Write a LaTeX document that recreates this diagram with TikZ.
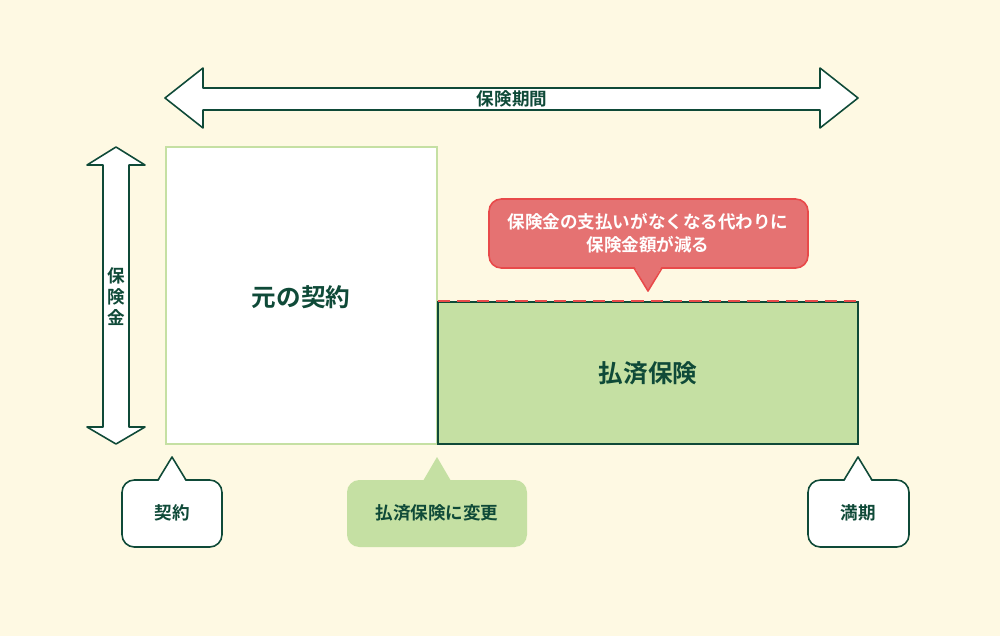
\documentclass[tikz,border=0pt]{standalone}
\usepackage{fontspec}
\newfontfamily\jp{Noto Sans CJK JP}[BoldFont={* Bold}]
\definecolor{bg}{HTML}{FEF9E3}
\definecolor{dg}{HTML}{0F4A38}
\definecolor{lg}{HTML}{C5E0A3}
\definecolor{rd}{HTML}{E57272}
\definecolor{rdb}{HTML}{E84A4A}
\begin{document}
\begin{tikzpicture}[x=0.02cm,y=-0.02cm,font=\jp\bfseries,
  lbl/.style={text=dg,font=\jp\bfseries\fontsize{10}{12}\selectfont}]
\fill[bg] (0,0) rectangle (1000,636);
\useasboundingbox (0,0) rectangle (1000,636);
% top arrow
\draw[dg,fill=white,line width=0.9pt,line join=round] (165,98) -- (203,68) -- (203,88) -- (820,88) -- (820,68) -- (858,98) -- (820,128) -- (820,110) -- (203,110) -- (203,128) -- cycle;
\node[lbl] (t) at (512,99) {保険期間};
% vertical arrow
\draw[dg,fill=white,line width=0.9pt,line join=round] (116,147) -- (145,165) -- (129,165) -- (129,427) -- (145,427) -- (116,444) -- (87,427) -- (103,427) -- (103,165) -- (87,165) -- cycle;
\node[lbl,align=center] (v) at (116,297) {保\\険\\金};
% boxes
\draw[lg,fill=white,line width=1pt] (166,147) rectangle (437,444);
\node[text=dg,font=\jp\bfseries\fontsize{14}{16}\selectfont] (a) at (301,297) {元の契約};
\draw[dg,fill=lg,line width=0.9pt] (438,302) rectangle (858,444);
\draw[rdb,dashed,dash pattern=on 7pt off 4pt,line width=1.3pt] (438,301) -- (858,301);
\node[text=dg,font=\jp\bfseries\fontsize{14}{16}\selectfont] (b) at (648,373) {払済保険};
% red callout
\draw[rdb,fill=rd,line width=0.9pt,rounded corners=7pt] (489,199) rectangle (808,268);
\fill[rd] (634,266) -- (648,291) -- (662,266) -- cycle;
\draw[rdb,line width=0.9pt,line join=round] (634,268) -- (648,291) -- (662,268);
\node[text=white,align=center,font=\jp\bfseries\fontsize{10}{13}\selectfont] (c) at (648,233) {保険金の支払いがなくなる代わりに\\保険金額が減る};
% bottom callouts
\draw[dg,fill=white,line width=0.9pt,rounded corners=7pt] (122,480) rectangle (222,547);
\fill[white] (158,482) -- (172,457) -- (186,482) -- cycle;
\draw[dg,line width=0.9pt,line join=round] (158,480) -- (172,457) -- (186,480);
\node[lbl] (k) at (172,513) {契約};
\fill[lg,rounded corners=7pt] (347,480) rectangle (527,547);
\fill[lg] (423,481) -- (437,457) -- (451,481) -- cycle;
\node[lbl] (h) at (437,513) {払済保険に変更};
\draw[dg,fill=white,line width=0.9pt,rounded corners=7pt] (808,480) rectangle (909,547);
\fill[white] (844,482) -- (858,457) -- (872,482) -- cycle;
\draw[dg,line width=0.9pt,line join=round] (844,480) -- (858,457) -- (872,480);
\node[lbl] (m) at (858,513) {満期};
\end{tikzpicture}
\end{document}
